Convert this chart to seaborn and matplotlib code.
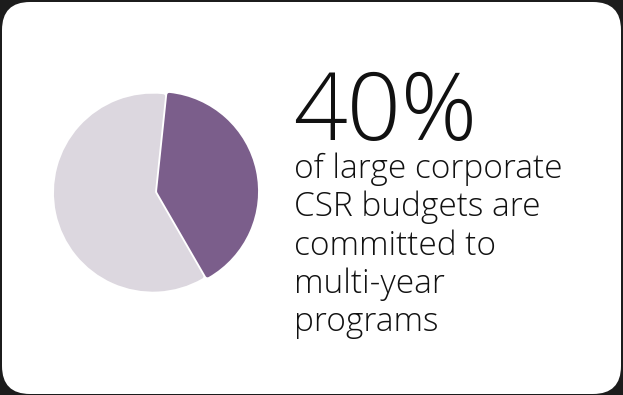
import matplotlib
matplotlib.use("Agg")
import matplotlib.pyplot as plt
from matplotlib.patches import FancyBboxPatch
import seaborn as sns

# Share of large corporate CSR budgets committed to multi-year programs
labels = ["Multi-year programs", "Other"]
shares = [40, 60]
colors = ["#7b5e8b", "#dcd7df"]

headline = "40%"
caption_lines = ["of large corporate", "CSR budgets are", "committed to", "multi-year", "programs"]

sns.set_theme(style="white")
plt.rcParams["font.family"] = ["Open Sans", "DejaVu Sans"]

W, H = 623, 395
fig = plt.figure(figsize=(W / 100, H / 100), dpi=100, facecolor="#1c1c1c")

# White rounded card behind everything
card = FancyBboxPatch((2 / W, 1 / H), 619 / W, 392 / H,
                      boxstyle="round,pad=0,rounding_size=0.045",
                      transform=fig.transFigure, facecolor="white",
                      edgecolor="none", mutation_aspect=W / H, zorder=-10)
fig.patches.append(card)

# Pie axes
cx, cy, R = 156, 192, 97
side = 230
ax = fig.add_axes([(cx - side / 2) / W, 1 - (cy + side / 2) / H, side / W, side / H])
ax.set_axis_off()
ax.patch.set_alpha(0)
wedges, _ = ax.pie(shares, colors=colors, startangle=84, counterclock=False,
                   explode=[0.032, 0.032], radius=1.0,
                   wedgeprops=dict(linewidth=2.9))
for w, c in zip(wedges, colors):
    w.set_edgecolor(c)
    w.set_joinstyle("round")
lim = (side / 2) / R
ax.set_xlim(-lim, lim)
ax.set_ylim(-lim, lim)
ax.set_aspect("equal")

# Headline and caption
fig.text(293 / W, 1 - 140 / H, headline, fontsize=68, fontweight="light",
         color="#111111", ha="left", va="baseline")
y0 = 178
for i, line in enumerate(caption_lines):
    fig.text(294 / W, 1 - (y0 + i * 38.3) / H, line, fontsize=24,
             fontweight="light", color="#111111", ha="left", va="baseline")

fig.savefig("out.png", dpi=100, facecolor=fig.get_facecolor())
